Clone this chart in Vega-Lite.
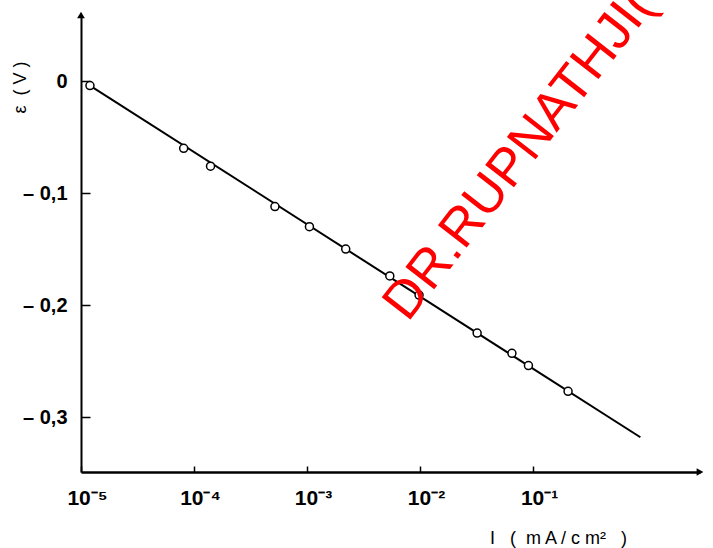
{
  "$schema": "https://vega.github.io/schema/vega-lite/v6.json",
  "autosize": "none",
  "width": 619,
  "height": 457,
  "padding": {"left": 81, "top": 15, "right": 13, "bottom": 76},
  "background": "white",
  "config": {
    "view": {"stroke": null},
    "axis": {"grid": false, "domainColor": "black", "tickColor": "black", "labelColor": "black", "titleColor": "black", "labelFont": "Liberation Sans", "titleFont": "Liberation Sans"}
  },
  "datasets": {
    "pts": [
      {"I": 0.000012, "E": -0.004},
      {"I": 0.000081, "E": -0.060},
      {"I": 0.00014, "E": -0.076},
      {"I": 0.00052, "E": -0.112},
      {"I": 0.00105, "E": -0.130},
      {"I": 0.0022, "E": -0.150},
      {"I": 0.0054, "E": -0.174},
      {"I": 0.0098, "E": -0.191},
      {"I": 0.032, "E": -0.225},
      {"I": 0.065, "E": -0.243},
      {"I": 0.091, "E": -0.254},
      {"I": 0.204, "E": -0.277}
    ],
    "fit": [
      {"I": 0.000012, "E": -0.004},
      {"I": 0.89, "E": -0.318}
    ],
    "arrows": [
      {"I": 3.0, "E": -0.349, "dir": "x"},
      {"I": 0.00001, "E": 0.059, "dir": "y"}
    ],
    "mark": [
      {"label": "DR.RUPNATHJI( DR.RUPAK NATH )", "I": 0.0078, "E": -0.2159}
    ]
  },
  "layer": [
    {
      "data": {"name": "fit"},
      "mark": {"type": "line", "color": "black", "strokeWidth": 2},
      "encoding": {
        "x": {"field": "I", "type": "quantitative",
          "scale": {"type": "log", "domain": [0.00001, 3.0], "nice": false},
          "axis": {
            "values": [0.00001, 0.0001, 0.001, 0.01, 0.1],
            "labelExpr": "'10' + ['⁻⁵','⁻⁴','⁻³','⁻²','⁻¹'][round(log(datum.value)/LN10) + 5]",
            "labelFontSize": 21, "labelFontWeight": "bold",
            "labelOverlap": false, "labelFlush": false, "labelOffset": 6,
            "tickSize": -6, "tickWidth": 1.5, "domainWidth": 2.5,
            "labelPadding": 21,
            "title": "I \u00a0\u00a0( \u00a0m A / c m² \u00a0\u00a0)",
            "titleFontSize": 18, "titleFontWeight": "normal",
            "titleX": 477, "titleY": 71, "titleBaseline": "alphabetic", "titleAnchor": "middle", "titleAlign": "center"
          }
        },
        "y": {"field": "E", "type": "quantitative",
          "scale": {"domain": [-0.349, 0.059], "nice": false, "zero": false},
          "axis": {
            "values": [0, -0.1, -0.2, -0.3],
            "labelExpr": "datum.value == 0 ? '0' : '– ' + replace(format(-datum.value, '.1f'), '.', ',')",
            "labelFontSize": 20, "labelFontWeight": "bold",
            "tickSize": -9, "tickWidth": 1.5, "domainWidth": 2,
            "labelPadding": 23,
            "title": "ε \u00a0( V )",
            "titleFontSize": 18, "titleFontWeight": "normal",
            "titleX": -61, "titleY": 72, "titleAngle": -90, "titleAlign": "center", "titleBaseline": "middle", "titleAnchor": "middle"
          }
        }
      }
    },
    {
      "data": {"name": "pts"},
      "mark": {"type": "point", "shape": "circle", "filled": true, "fill": "white", "stroke": "black", "strokeWidth": 1.5, "size": 64, "opacity": 1},
      "encoding": {
        "x": {"field": "I", "type": "quantitative"},
        "y": {"field": "E", "type": "quantitative"}
      }
    },
    {
      "data": {"name": "arrows"},
      "mark": {"type": "point", "filled": true, "color": "black", "size": 60, "opacity": 1},
      "encoding": {
        "x": {"field": "I", "type": "quantitative"},
        "y": {"field": "E", "type": "quantitative"},
        "shape": {"field": "dir", "type": "nominal", "scale": {"domain": ["x", "y"], "range": ["triangle-right", "triangle-up"]}, "legend": null}
      }
    },
    {
      "data": {"name": "mark"},
      "mark": {"type": "text", "font": "Liberation Sans", "fontSize": 53, "color": "#ff0000", "angle": -52, "align": "left", "baseline": "alphabetic"},
      "encoding": {
        "x": {"field": "I", "type": "quantitative"},
        "y": {"field": "E", "type": "quantitative"},
        "text": {"field": "label"}
      }
    }
  ]
}
